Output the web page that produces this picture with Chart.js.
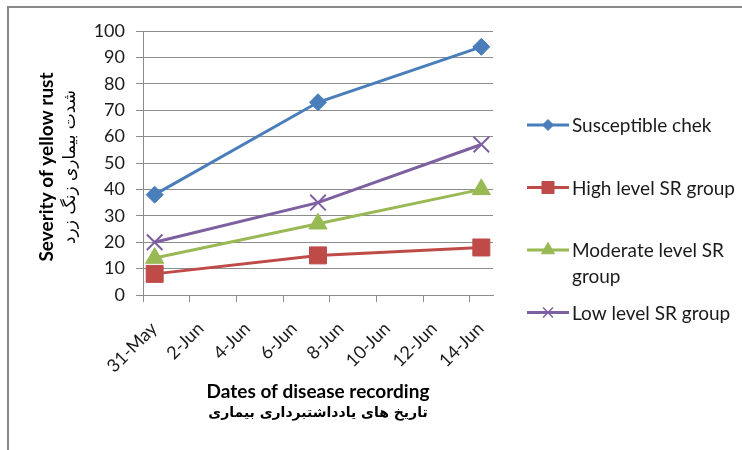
<!DOCTYPE html>
<html>
<head>
<meta charset="utf-8">
<script src="https://cdn.jsdelivr.net/npm/chart.js@4.4.1/dist/chart.umd.min.js"></script>
<style>
  body { margin: 0; background: #fff; }
  #wrap { position: relative; width: 742px; height: 450px; overflow: hidden; }
  #frame { position: absolute; left: 7px; top: 6px; width: 760px; height: 500px;
           border-left: 2px solid #888; border-top: 2px solid #888; }
  canvas { position: absolute; left: 0; top: 0; }
</style>
</head>
<body>
<div id="wrap">
  <div id="frame"></div>
  <canvas id="chart" width="742" height="450"></canvas>
</div>
<script>
// days counted from 31-May
const recordDays = [0, 7, 14]
const tickLabels = ['31-May', '2-Jun', '4-Jun', '6-Jun', '8-Jun', '10-Jun', '12-Jun', '14-Jun']

const seriesNames = ['Susceptible chek', 'High level SR group', 'Moderate level SR group', 'Low level SR group']
const susceptible = [38, 73, 94]
const highSR = [8, 15, 18]
const moderateSR = [14, 27, 40]
const lowSR = [20, 35, 57]

const yTitle = ['Severity of yellow rust', 'شدت بیماری زنگ زرد']
const xTitle = ['Dates of disease recording', 'تاریخ های یادداشتبرداری بیماری']

const colors = ['#4A7EBB', '#BE4B48', '#98B954', '#7D60A0']
const styles = ['rectRot', 'rect', 'triangle', 'crossRot']
const radii = [8.5, 12, 10.5, 11]
const legendRadii = [5.5, 8.5, 7.5, 7]

const font = 'Lato, "Open Sans", sans-serif'
const gray = '#8c8c8c'

// Excel puts each date in the middle of its day slot
function points(values) {
    return values.map((v, i) => ({ x: recordDays[i] + 0.5, y: v }))
}

const allSeries = [susceptible, highSR, moderateSR, lowSR]

const datasets = allSeries.map((vals, i) => ({
    label: seriesNames[i],
    data: points(vals),
    borderColor: colors[i],
    backgroundColor: colors[i],
    borderWidth: 3,
    pointStyle: styles[i],
    pointRadius: radii[i],
    pointHoverRadius: radii[i],
    pointBorderWidth: styles[i] === 'crossRot' ? 2 : 1,
    tension: 0
}))

const extras = {
    id: 'extras',
    afterDraw(chart) {
        const ctx = chart.ctx
        const area = chart.chartArea
        ctx.save()
        ctx.fillStyle = '#000'
        ctx.textAlign = 'center'
        ctx.textBaseline = 'middle'

        // y title (rotated)
        ctx.save()
        ctx.translate(47, (area.top + area.bottom) / 2 + 4)
        ctx.rotate(-Math.PI / 2)
        ctx.font = 'bold 19px ' + font
        ctx.fillText(yTitle[0], 0, 0)
        ctx.font = '17px "DejaVu Sans", sans-serif'
        ctx.direction = 'rtl'
        ctx.fillText(yTitle[1], 0, 24)
        ctx.restore()

        // x title
        const cx = (area.left + area.right) / 2
        ctx.font = 'bold 19px ' + font
        ctx.fillText(xTitle[0], cx, 392)
        ctx.font = 'bold 14px "DejaVu Sans", sans-serif'
        ctx.direction = 'rtl'
        ctx.fillText(xTitle[1], cx, 413)
        ctx.direction = 'ltr'

        // legend on the right
        const lx0 = 527, lx1 = 569, tx = 572, maxW = 175
        let y = 125
        ctx.textAlign = 'left'
        ctx.font = '19px ' + font
        chart.data.datasets.forEach((ds, i) => {
            ctx.strokeStyle = ds.borderColor
            ctx.lineWidth = 3
            ctx.beginPath()
            ctx.moveTo(lx0, y)
            ctx.lineTo(lx1, y)
            ctx.stroke()
            ctx.lineWidth = styles[i] === 'crossRot' ? 1.5 : 1
            ctx.fillStyle = ds.backgroundColor
            Chart.helpers.drawPoint(ctx, { pointStyle: styles[i], radius: legendRadii[i], rotation: 0, borderWidth: ctx.lineWidth }, (lx0 + lx1) / 2, y)

            // wrap the label
            const words = ds.label.split(' ')
            const lines = []
            let line = ''
            words.forEach(w => {
                const test = line ? line + ' ' + w : w
                if (ctx.measureText(test).width > maxW && line) {
                    lines.push(line)
                    line = w
                } else {
                    line = test
                }
            })
            lines.push(line)
            ctx.fillStyle = '#1a1a1a'
            lines.forEach((l, k) => ctx.fillText(l, tx, y + 1 + k * 26))
            y += 62.5
        })
        ctx.restore()
    }
}

new Chart(document.getElementById('chart'), {
    type: 'line',
    data: { datasets },
    options: {
        responsive: false,
        animation: false,
        events: [],
        layout: { padding: { left: 0, right: 249, top: 31, bottom: 75 } },
        plugins: { legend: { display: false }, tooltip: { enabled: false } },
        scales: {
            x: {
                type: 'linear',
                min: 0,
                max: 15,
                afterFit(scale) { scale.height = 80 },
                grid: { display: true, drawOnChartArea: false, drawTicks: true, tickLength: 7, color: gray },
                border: { color: gray, width: 1 },
                ticks: {
                    stepSize: 2,
                    includeBounds: false,
                    autoSkip: false,
                    minRotation: 45,
                    maxRotation: 45,
                    padding: 16,
                    labelOffset: 11,
                    color: '#1a1a1a',
                    font: { family: font, size: 18 },
                    callback: (v) => tickLabels[v / 2]
                }
            },
            y: {
                min: 0,
                max: 100,
                afterFit(scale) { scale.width = 143 },
                grid: { color: gray, tickLength: 7 },
                border: { color: gray, width: 1 },
                ticks: {
                    stepSize: 10,
                    padding: 11,
                    color: '#1a1a1a',
                    font: { family: font, size: 18 }
                }
            }
        }
    },
    plugins: [extras]
})
</script>
</body>
</html>
